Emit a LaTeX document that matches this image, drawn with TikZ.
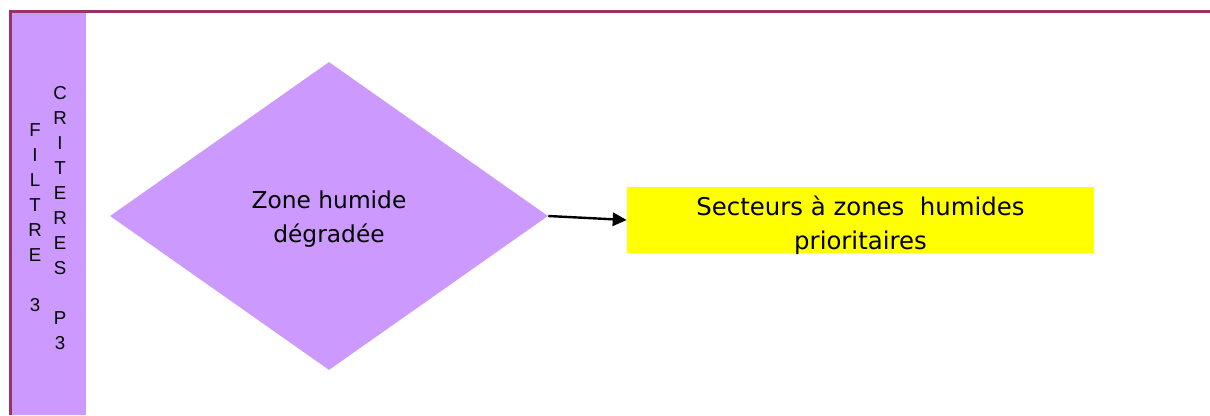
\documentclass[tikz,border=0pt]{standalone}
\usepackage{fontspec}
\setmainfont{DejaVu Sans}
\newfontfamily\lanefont{Liberation Sans}
\usetikzlibrary{shapes.geometric,arrows.meta}
\definecolor{lane}{HTML}{CC99FF}
\definecolor{frame}{HTML}{993366}
\definecolor{hilite}{HTML}{FFFF00}

\begin{document}
\begin{tikzpicture}[x=0.75pt,y=-0.75pt,
  boxtext/.style={align=center, font=\fontsize{17.5}{25.5}\selectfont, inner sep=0pt},
  widetext/.style={align=center, font=\fontsize{18.3}{25.5}\selectfont, inner sep=0pt},
  lanetext/.style={align=center, font=\lanefont\fontsize{14}{18.75}\selectfont, inner sep=0pt},
  flow/.style={-{Triangle[length=10.5pt,width=10pt]}, line width=1.8pt}]
\useasboundingbox (0,0) rectangle (1210,415);

% swimlane header strip and frame
\fill[lane] (11,12) rectangle (86,415);
\draw[frame, line width=2pt] (10.5,415) -- (10.5,11.5) -- (1210,11.5);

% stacked lane titles
\node[lanetext] (filtre) at (35,217.5) {F\\I\\L\\T\\R\\E\\\mbox{}\\3};
\node[lanetext] (criteres) at (60,218) {C\\R\\I\\T\\E\\R\\E\\S\\\mbox{}\\P\\3};

% decision diamond
\node[diamond, fill=lane, inner sep=0pt, minimum width=328.5pt, minimum height=231pt] (zone) at (329,216) {};
\node[boxtext] (zonetxt) at ([yshift=-2.25pt]zone.center) {Zone humide\\dégradée};

% result box
\node[rectangle, fill=hilite, inner sep=0pt, minimum width=350.25pt, minimum height=49.5pt] (secteurs) at (860.5,220) {};
\node[widetext] (secteurstxt) at ([yshift=-3.75pt]secteurs.center) {Secteurs à zones~ humides\\prioritaires};

% connector
\draw[flow] (zone.east) -- (secteurs.west);
\end{tikzpicture}
\end{document}
